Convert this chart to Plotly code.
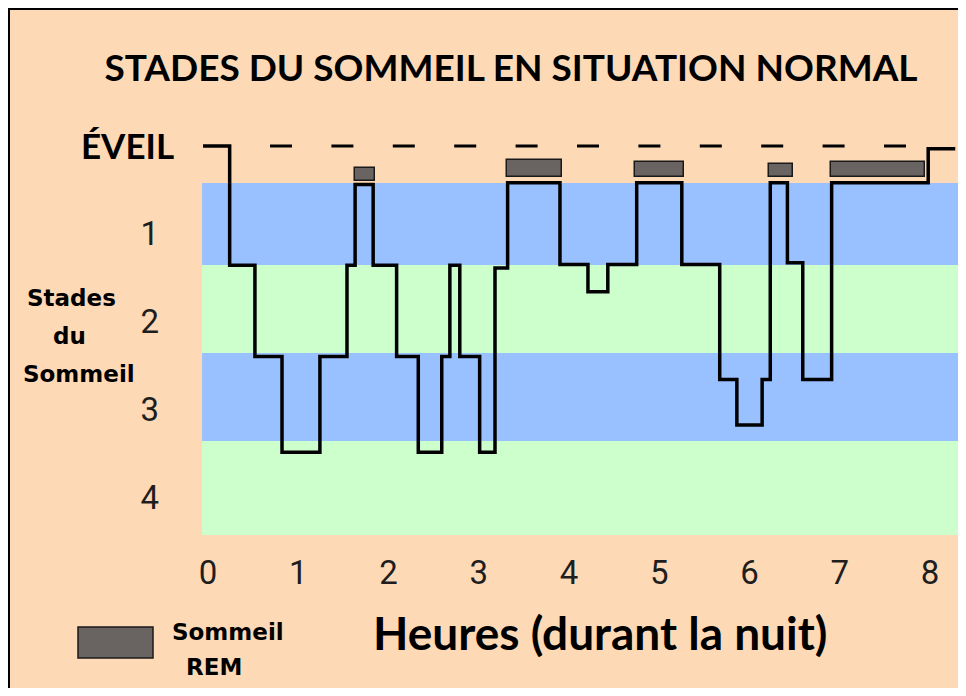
import plotly.graph_objects as go

# the page body adds an 8 px margin: the figure is drawn 8 px right / down
OFF = 8
W, H = 966 - OFF, 696 - 2 * OFF

# ---------------- data ----------------
# hypnogram: time (hours) at which each level starts, and the level (0 = éveil, larger = deeper)
hyp_times = [-0.055, 0.24, 0.52, 0.82, 1.24, 1.54, 1.63, 1.83, 2.09, 2.33, 2.59, 2.68, 2.79,
             3.01, 3.18, 3.32, 3.90, 4.21, 4.43, 4.75, 5.25, 5.67, 5.86, 6.14, 6.23, 6.42,
             6.59, 6.91, 7.98, 8.28]
hyp_levels = [0, 1.36, 2.40, 3.49, 2.40, 1.36, 0.44, 1.36, 2.40, 3.49, 2.40, 1.36, 2.40,
              3.49, 1.39, 0.42, 1.35, 1.66, 1.35, 0.42, 1.35, 2.66, 3.18, 2.66, 0.42, 1.33,
              2.66, 0.42, 0.03, 0.03]

# REM sleep periods
rem_start = [1.63, 3.31, 4.73, 6.22, 6.90]
rem_end = [1.85, 3.92, 5.27, 6.48, 7.94]
rem_top = [0.25, 0.16, 0.18, 0.21, 0.18]
rem_bottom = [0.40, 0.35, 0.35, 0.35, 0.35]

# éveil dashed reference line
eveil_x = [0.687, 7.756]
eveil_y = [0, 0]

# stage bands (edges) and colours
band_edges = [0.422, 1.356, 2.359, 3.362, 4.433]
band_colors = ["#99C1FF", "#CCFFCC", "#99C1FF", "#CCFFCC"]
band_x = [-0.066, 8.355]

x_ticks = [0, 1, 2, 3, 4, 5, 6, 7, 8]
y_ticks = [1, 2, 3, 4]
y_ticktext = ["1", "2", "3", "4"]

title_text = "STADES DU SOMMEIL EN SITUATION NORMAL"
xlabel_text = "Heures (durant la nuit)"
eveil_text = "ÉVEIL"
ylabel_lines = ["Stades", "du", "Sommeil"]
legend_lines = ["Sommeil", "REM"]

# ---------------- helpers (page pixel -> paper fraction) ----------------
def px(x):
    return (x - OFF) / W


def py(y):
    return 1 - (y - OFF) / H


X0_PX, PX_PER_H = 208, 90.25
Y0_PX, PX_PER_ST = 146, 87.75
BOTTOM_PX = OFF + H  # page pixel of the figure's bottom edge

fig = go.Figure()

# hypnogram
fig.add_trace(go.Scatter(
    x=hyp_times, y=hyp_levels, mode="lines", line=dict(shape="hv", color="black", width=3.5),
    hoverinfo="skip", showlegend=False))

# éveil dashed line
fig.add_trace(go.Scatter(
    x=eveil_x, y=eveil_y, mode="lines",
    line=dict(color="black", width=3, dash="22px,39.4px"),
    hoverinfo="skip", showlegend=False))

# REM bars
fig.add_trace(go.Bar(
    x=[(a + b) / 2 for a, b in zip(rem_start, rem_end)],
    width=[b - a for a, b in zip(rem_start, rem_end)],
    base=rem_top,
    y=[b - t for t, b in zip(rem_top, rem_bottom)],
    marker=dict(color="#696362", line=dict(color="#1a1a1a", width=1.5)),
    hoverinfo="skip", showlegend=False, name="Sommeil REM"))

shapes = []
# page background with border
shapes.append(dict(type="rect", xref="paper", yref="paper", x0=px(8), x1=px(975), y0=py(705),
                   y1=py(8), fillcolor="#FDD9B6", line=dict(width=0), layer="below"))
shapes.append(dict(type="line", xref="paper", yref="paper", x0=px(9), x1=px(9), y0=py(8),
                   y1=py(705), line=dict(color="black", width=2), layer="below"))
shapes.append(dict(type="line", xref="paper", yref="paper", x0=px(8), x1=px(975), y0=py(9),
                   y1=py(9), line=dict(color="black", width=2), layer="below"))
# stage bands
for i, c in enumerate(band_colors):
    shapes.append(dict(type="rect", xref="x", yref="y", x0=band_x[0], x1=band_x[1],
                       y0=band_edges[i], y1=band_edges[i + 1], fillcolor=c,
                       line=dict(width=0), layer="below"))
# legend box
shapes.append(dict(type="rect", xref="paper", yref="paper", x0=px(78), x1=px(153), y0=py(658),
                   y1=py(627), fillcolor="#696362", line=dict(color="#1a1a1a", width=1.5)))

annotations = []
annotations.append(dict(text=f"<b>{eveil_text}</b>", xref="paper", yref="paper", x=px(176),
                        y=py(145), xanchor="right", yanchor="middle", showarrow=False,
                        font=dict(family="Lato", size=35, color="black")))
for txt, cx, cy in zip(ylabel_lines, [71, 69, 79], [298, 336, 374]):
    annotations.append(dict(text=f"<b>{txt}</b>", xref="paper", yref="paper", x=px(cx), y=py(cy),
                            xanchor="center", yanchor="middle", showarrow=False,
                            font=dict(family="DejaVu Sans", size=23, color="black")))
for txt, cx, cy in zip(legend_lines, [228, 214], [632, 667]):
    annotations.append(dict(text=f"<b>{txt}</b>", xref="paper", yref="paper", x=px(cx), y=py(cy),
                            xanchor="center", yanchor="middle", showarrow=False,
                            font=dict(family="DejaVu Sans", size=23, color="black")))
annotations.append(dict(text=f"<b>{xlabel_text}</b>", xref="paper", yref="paper", x=px(600),
                        y=py(632), xanchor="center", yanchor="middle", showarrow=False,
                        font=dict(family="Lato", size=46, color="black")))

tick_font = dict(family="Liberation Sans Narrow, Arial Narrow, Roboto", size=33, color="#1e1e1e")

fig.update_layout(
    width=W, height=H, margin=dict(l=0, r=0, t=0, b=0), autosize=False,
    paper_bgcolor="white", plot_bgcolor="rgba(0,0,0,0)",
    title=dict(text=f"<b>{title_text}</b>", x=px(511), y=py(68), xanchor="center",
               yanchor="middle", xref="paper", yref="paper",
               font=dict(family="Lato", size=37, color="black")),
    shapes=shapes, annotations=annotations, bargap=0,
    xaxis=dict(range=[(OFF - X0_PX) / PX_PER_H, (966 - X0_PX) / PX_PER_H], anchor="free",
               position=(BOTTOM_PX - 535) / H, tickvals=x_ticks, showgrid=False, zeroline=False,
               showline=False, ticks="", ticklabelstandoff=15, tickfont=tick_font,
               fixedrange=True),
    yaxis=dict(range=[(BOTTOM_PX - Y0_PX) / PX_PER_ST, (OFF - Y0_PX) / PX_PER_ST], anchor="free",
               position=(202 - OFF) / W, tickvals=y_ticks, ticktext=y_ticktext, showgrid=False,
               zeroline=False, showline=False, ticks="", ticklabelstandoff=43,
               tickfont=tick_font, fixedrange=True),
)

fig.write_html("out.html")
